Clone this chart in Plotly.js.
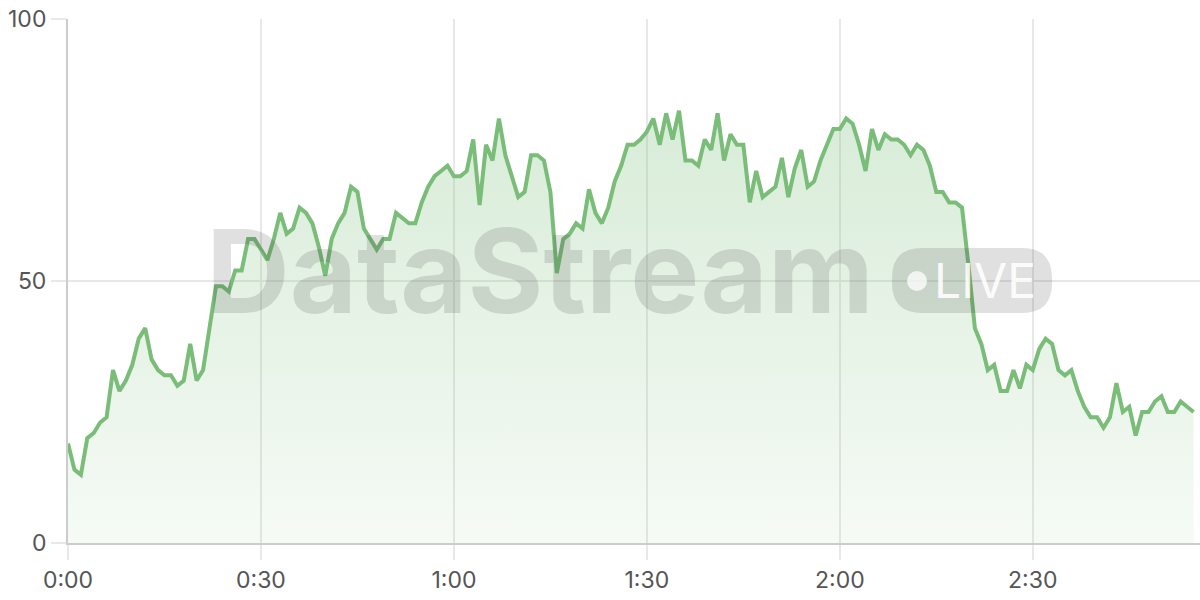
<!DOCTYPE html>
<html>
<head>
<meta charset="utf-8">
<script src="https://cdn.plot.ly/plotly-3.0.1.min.js"></script>
<style>
html,body{margin:0;padding:0;background:#fff;}
#chart{width:1200px;height:600px;}
</style>
</head>
<body>
<div id="chart"></div>
<script>
// Minutes elapsed (one sample per minute)
const minutes = Array.from({length: 176}, (_, i) => i);

// Stream values
const values = [
  19, 14, 13, 20, 21, 23, 24, 33, 29, 31,
  34, 39, 41, 35, 33, 32, 32, 30, 31, 38,
  31, 33, 41, 49, 49, 48, 52, 52, 58, 58,
  56, 54, 58, 63, 59, 60, 64, 63, 61, 56.5,
  51, 58, 61, 63, 68, 67, 60, 58, 56, 58,
  58, 63, 62, 61, 61, 65, 68, 70, 71, 72,
  70, 70, 71, 77, 64.5, 76, 73, 81, 74, 70,
  66, 67, 74, 74, 73, 67, 51.5, 58, 59, 61,
  60, 67.5, 63, 61, 64, 69, 72, 76, 76, 77,
  78.5, 81, 76, 82, 77, 82.5, 73, 73, 72, 77,
  75, 82, 73, 78, 76, 76, 65, 71, 66, 67,
  68, 73.5, 66, 71.5, 75, 68, 69, 73, 76, 79,
  79, 81, 80, 76, 71, 79, 75, 78, 77, 77,
  76, 74, 76, 75, 72, 67, 67, 65, 65, 64,
  53, 41, 38, 33, 34, 29, 29, 33, 29.5, 34,
  33, 37, 39, 38, 33, 32, 33, 29, 26, 24,
  24, 22, 24, 30.5, 25, 26, 20.5, 25, 25, 27,
  28, 25, 25, 27, 26, 25
];

// Axis ticks
const xTickVals = [0, 30, 60, 90, 120, 150];
const xTickText = ["0:00", "0:30", "1:00", "1:30", "2:00", "2:30"];
const yTickVals = [0, 50, 100];

const watermarkText = "DataStream";
const badgeText = "LIVE";

const trace = {
  x: minutes,
  y: values,
  type: "scatter",
  mode: "lines",
  line: {color: "#79bd79", width: 4},
  fill: "tozeroy",
  fillgradient: {
    type: "vertical",
    start: 0,
    stop: 85,
    colorscale: [[0, "rgba(121,189,121,0.07)"], [1, "rgba(121,189,121,0.30)"]]
  },
  hoverinfo: "skip"
};

// badge geometry in pixels -> paper coords
const L = 68, T = 19, W = 1132, H = 524;
const px = v => (v - L) / W;
const py = v => (T + H - v) / H;
function roundRect(x0, y0, x1, y1, r) {
  return `M${px(x0 + r)},${py(y0)} L${px(x1 - r)},${py(y0)} Q${px(x1)},${py(y0)} ${px(x1)},${py(y0 + r)} ` +
         `L${px(x1)},${py(y1 - r)} Q${px(x1)},${py(y1)} ${px(x1 - r)},${py(y1)} ` +
         `L${px(x0 + r)},${py(y1)} Q${px(x0)},${py(y1)} ${px(x0)},${py(y1 - r)} ` +
         `L${px(x0)},${py(y0 + r)} Q${px(x0)},${py(y0)} ${px(x0 + r)},${py(y0)} Z`;
}

const layout = {
  width: 1200,
  height: 600,
  margin: {l: 68, r: 0, t: 19, b: 57},
  paper_bgcolor: "#ffffff",
  plot_bgcolor: "#ffffff",
  showlegend: false,
  font: {family: "Inter, sans-serif", color: "#555555", size: 23},
  xaxis: {
    range: [0, 176],
    tickvals: xTickVals,
    ticktext: xTickText,
    showgrid: true,
    gridcolor: "#e8e8e8",
    gridwidth: 1.5,
    zeroline: false,
    showline: true,
    linecolor: "#cccccc",
    linewidth: 2,
    ticks: "outside",
    ticklen: 15,
    tickwidth: 1.5,
    tickcolor: "#e8e8e8",
    tickfont: {family: "Inter, sans-serif", size: 23, color: "#555555"},
    fixedrange: true
  },
  yaxis: {
    range: [0, 100],
    tickvals: yTickVals,
    showgrid: true,
    gridcolor: "#e8e8e8",
    gridwidth: 1.5,
    zeroline: false,
    showline: true,
    linecolor: "#cccccc",
    linewidth: 2,
    ticks: "outside",
    ticklen: 15,
    tickwidth: 1.5,
    tickcolor: "#e8e8e8",
    tickfont: {family: "Inter, sans-serif", size: 23, color: "#555555"},
    fixedrange: true
  },
  shapes: [
    {type: "path", xref: "paper", yref: "paper", layer: "above",
     path: roundRect(892, 248, 1052, 313, 30),
     fillcolor: "rgba(60,60,60,0.16)", line: {width: 0}},
    {type: "circle", xref: "paper", yref: "paper", layer: "above",
     x0: px(907), x1: px(927), y0: py(291), y1: py(271),
     fillcolor: "rgba(255,255,255,0.75)", line: {width: 0}}
  ],
  annotations: [
    {text: watermarkText, xref: "paper", yref: "paper",
     x: px(540), y: py(271), xanchor: "center", yanchor: "middle",
     showarrow: false,
     font: {family: "Inter, sans-serif", size: 116, color: "rgba(60,60,60,0.155)", weight: 700}},
    {text: badgeText, xref: "paper", yref: "paper",
     x: px(985), y: py(280), xanchor: "center", yanchor: "middle",
     showarrow: false,
     font: {family: "Inter, sans-serif", size: 48, color: "rgba(255,255,255,0.88)"}}
  ]
};

Plotly.newPlot("chart", [trace], layout, {displayModeBar: false, staticPlot: true});
</script>
</body>
</html>
